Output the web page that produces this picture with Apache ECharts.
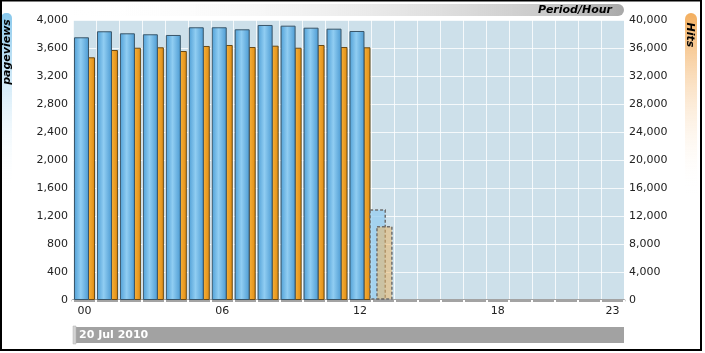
<!DOCTYPE html>
<html>
<head>
<meta charset="utf-8">
<script src="https://cdn.jsdelivr.net/npm/echarts@6/dist/echarts.min.js"></script>
<style>
html, body { margin: 0; padding: 0; background: #fff; }
#chart { width: 705px; height: 353px; }
</style>
</head>
<body>
<div id="chart"></div>
<script>
// hours of the day
var hours = ['00', '01', '02', '03', '04', '05', '06', '07', '08', '09', '10', '11',
	'12', '13', '14', '15', '16', '17', '18', '19', '20', '21', '22', '23'];
// pageviews per hour (left axis)
var pageviews = [3753, 3839, 3810, 3796, 3786, 3896, 3896, 3867, 3929, 3919, 3890, 3876, 3843];
// hits per hour (right axis)
var hits = [34670, 35710, 36040, 36100, 35570, 36290, 36430, 36140, 36330, 36040, 36430, 36140, 36100];
// current (incomplete) hour
var projHour = 13;
var projPageviews = 1286;
var projHits = 10480;
var dateLabel = '20 Jul 2010';

initChart();

function hGrad(stops) {
	return new echarts.graphic.LinearGradient(0, 0, 1, 0, stops);
}

function initChart() {
	var myChart = echarts.init(document.getElementById('chart'));

	// dashed bar for the hour still in progress
	function projItem(x0, x1, fill) {
		return function (params, api) {
			var top = api.coord([api.value(0), api.value(1)]);
			var base = api.coord([api.value(0), 0]);
			var w = api.size([1, 0])[0];
			var left = top[0] - w / 2;
			return {
				type : 'rect',
				shape : {
					x : left + x0 * w,
					y : top[1],
					width : (x1 - x0) * w,
					height : base[1] - top[1] - 1
				},
				style : {
					fill : fill,
					stroke : '#6f6f6f',
					lineWidth : 1.5,
					lineDash : [ 3, 2 ]
				}
			};
		};
	}

	var option = {
		animation : false,
		textStyle : { fontFamily : 'DejaVu Sans' },
		grid : {
			left : 73,
			right : 81,
			top : 20,
			bottom : 53,
			show : true,
			backgroundColor : '#cde0ea',
			borderWidth : 0
		},
		xAxis : {
			type : 'category',
			data : hours,
			boundaryGap : true,
			axisLine : { lineStyle : { color : '#a3a3a3', width : 3 } },
			axisTick : {
				show : true,
				interval : 0,
				length : 3,
				lineStyle : { color : '#ffffff', width : 2 }
			},
			axisLabel : {
				interval : function (i) { return i % 6 === 0 || i === 23; },
				color : '#222',
				fontSize : 11,
				margin : 6
			},
			splitLine : {
				show : true,
				interval : 0,
				lineStyle : { color : 'rgba(255,255,255,0.8)', width : 1 }
			}
		},
		yAxis : [ {
			type : 'value',
			min : 0,
			max : 4000,
			interval : 400,
			axisLine : { show : false },
			axisTick : { show : false },
			axisLabel : { color : '#222', fontSize : 11, margin : 5 },
			splitLine : { lineStyle : { color : 'rgba(255,255,255,0.8)', width : 1 } }
		}, {
			type : 'value',
			position : 'right',
			min : 0,
			max : 40000,
			interval : 4000,
			axisLine : { show : false },
			axisTick : { show : false },
			axisLabel : { color : '#222', fontSize : 11, margin : 5 },
			splitLine : { show : false }
		} ],
		series : [ {
			name : 'pageviews',
			type : 'bar',
			data : pageviews,
			barWidth : 15,
			barGap : '-6.7%',
			z : 3,
			itemStyle : {
				color : hGrad([
					{ offset : 0, color : '#4f9fd6' },
					{ offset : 0.45, color : '#90cdf2' },
					{ offset : 1, color : '#4b9ad2' }
				]),
				borderColor : '#3a5669',
				borderWidth : 1
			}
		}, {
			name : 'hits',
			type : 'bar',
			yAxisIndex : 1,
			data : hits,
			barWidth : 7,
			barGap : '-6.7%',
			z : 2,
			itemStyle : {
				color : hGrad([
					{ offset : 0, color : '#f7b23c' },
					{ offset : 1, color : '#e08c12' }
				]),
				borderColor : '#6b4a14',
				borderWidth : 1
			}
		}, {
			name : 'pageviews (current)',
			type : 'custom',
			yAxisIndex : 0,
			z : 3,
			data : [ [ projHour, projPageviews ] ],
			renderItem : projItem(-0.06, 0.6, 'rgba(150,205,240,0.75)')
		}, {
			name : 'hits (current)',
			type : 'custom',
			yAxisIndex : 1,
			z : 4,
			data : [ [ projHour, projHits ] ],
			renderItem : projItem(0.24, 0.89, 'rgba(235,180,100,0.55)')
		} ],
		graphic : [
			// outer frame
			{ type : 'rect', shape : { x : 1, y : 0.5, width : 700, height : 349.5 },
				style : { fill : 'none', stroke : '#000', lineWidth : 2 }, z : 100 },
			// title pill
			{ type : 'rect', shape : { x : 73, y : 4, width : 551, height : 12, r : [ 0, 6, 6, 0 ] },
				style : { fill : hGrad([
					{ offset : 0, color : 'rgba(255,255,255,0)' },
					{ offset : 0.9, color : '#c4c4c4' },
					{ offset : 1, color : '#a8a8a8' }
				]) } },
			{ type : 'text', x : 612, y : 10,
				style : { text : 'Period/Hour', fill : '#000', font : 'italic bold 11px DejaVu Sans',
					align : 'right', verticalAlign : 'middle' } },
			// left axis title
			{ type : 'rect', shape : { x : 1, y : 13, width : 11, height : 180, r : [ 5, 5, 0, 0 ] },
				style : { fill : new echarts.graphic.LinearGradient(0, 0, 0, 1, [
					{ offset : 0, color : '#88c8ec' },
					{ offset : 1, color : 'rgba(255,255,255,0)' }
				]) } },
			{ type : 'text', x : 7, y : 52, rotation : Math.PI / 2,
				style : { text : 'pageviews', fill : '#000', font : 'italic bold 11px DejaVu Sans',
					align : 'center', verticalAlign : 'middle' } },
			// right axis title
			{ type : 'rect', shape : { x : 685, y : 13, width : 12, height : 180, r : [ 6, 6, 0, 0 ] },
				style : { fill : new echarts.graphic.LinearGradient(0, 0, 0, 1, [
					{ offset : 0, color : '#f3ae5e' },
					{ offset : 1, color : 'rgba(255,255,255,0)' }
				]) } },
			{ type : 'text', x : 690, y : 35, rotation : -Math.PI / 2,
				style : { text : 'Hits', fill : '#000', font : 'italic bold 11px DejaVu Sans',
					align : 'center', verticalAlign : 'middle' } },
			// date bar
			{ type : 'rect', shape : { x : 73, y : 327, width : 551, height : 16 },
				style : { fill : '#a2a2a2' } },
			{ type : 'rect', shape : { x : 73, y : 326, width : 3, height : 18 },
				style : { fill : '#d4d4d4', stroke : '#b0b0b0', lineWidth : 0.5 } },
			{ type : 'text', x : 79, y : 335,
				style : { text : dateLabel, fill : '#fff', font : 'bold 11px DejaVu Sans',
					verticalAlign : 'middle' } }
		]
	};
	myChart.setOption(option);
}
</script>
</body>
</html>
